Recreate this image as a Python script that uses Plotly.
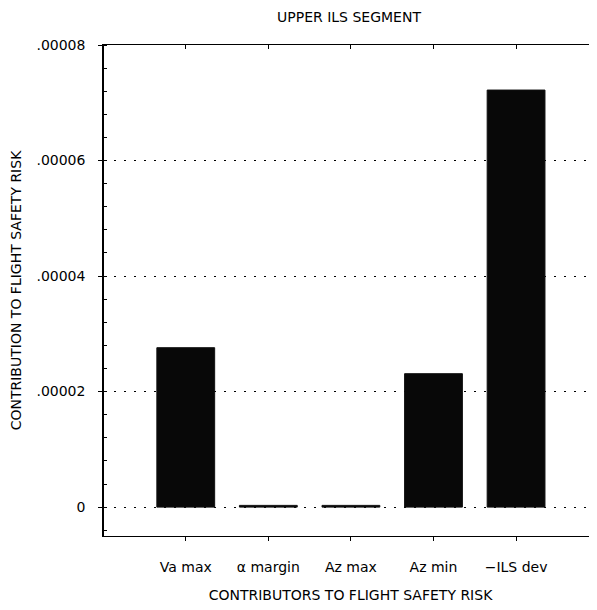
import plotly.graph_objects as go

# --- DATA ---
categories = ["Va max", "\u03b1 margin", "Az max", "Az min", "\u2212ILS dev"]
risk = [0.0000276, 0.0000003, 0.0000003, 0.0000231, 0.0000722]
y_ticks = [0, 0.00002, 0.00004, 0.00006, 0.00008]
y_tick_labels = ["0", ".00002", ".00004", ".00006", ".00008"]

FONT = "DejaVu Sans, sans-serif"
W, H = 589, 602  # page body has an 8px margin

fig = go.Figure()
fig.add_trace(go.Bar(
    x=list(range(len(categories))), y=risk,
    width=0.7, marker=dict(color="#080808", line=dict(color="#111", width=1)),
    showlegend=False,
))
# top frame line with downward ticks
fig.add_trace(go.Scatter(x=[0], y=[None], xaxis="x2", showlegend=False, hoverinfo="skip"))

fig.update_layout(
    width=W, height=H,
    paper_bgcolor="white", plot_bgcolor="white",
    margin=dict(l=96, r=0, t=37, b=74, autoexpand=False),
    font=dict(family=FONT, color="black", size=12),
    title=dict(text="UPPER ILS SEGMENT", x=341 / W, xanchor="center", y=1 - 9 / H, yanchor="middle",
               font=dict(size=14, family=FONT)),
    bargap=0.3,
)
fig.update_xaxes(
    range=[-0.99, 4.98], automargin=False,
    tickvals=list(range(len(categories))), ticktext=categories,
    tickfont=dict(size=14, family=FONT),
    showline=True, linecolor="black", linewidth=1,
    ticks="outside", ticklen=4, tickcolor="black", ticklabelstandoff=14,
    showgrid=False, zeroline=False,
    title=dict(text="CONTRIBUTORS TO FLIGHT SAFETY RISK", standoff=16,
               font=dict(size=14, family=FONT)),
)
fig.update_layout(xaxis2=dict(
    overlaying="x", side="top", matches="x", range=[-0.99, 4.98],
    tickvals=list(range(len(categories))), showticklabels=False,
    showline=True, linecolor="black", linewidth=1,
    ticks="inside", ticklen=4, tickcolor="black",
    showgrid=False, zeroline=False,
))
fig.update_yaxes(
    range=[-0.000005, 0.00008], automargin=False,
    tickvals=y_ticks, ticktext=y_tick_labels,
    tickfont=dict(size=14, family=FONT),
    showline=True, linecolor="black", linewidth=1.5,
    ticks="outside", ticklen=4, tickcolor="black", ticklabelstandoff=10,
    minor=dict(dtick=0.000004, tick0=0, ticks="inside", ticklen=3, tickcolor="black", showgrid=False),
    showgrid=True, gridcolor="black", griddash="2px,8px", gridwidth=1,
    zeroline=False,
    title=dict(text="CONTRIBUTION TO FLIGHT SAFETY RISK", standoff=20,
               font=dict(size=14, family=FONT)),
)

fig.write_html("out.html")
